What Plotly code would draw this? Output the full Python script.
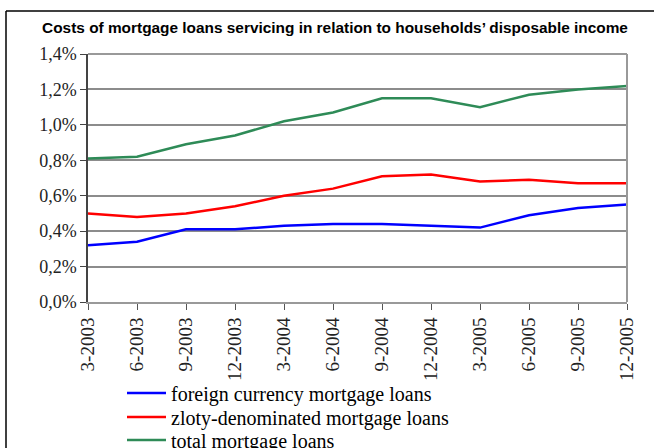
import plotly.graph_objects as go

# Quarter-end dates
quarters = ["3-2003", "6-2003", "9-2003", "12-2003", "3-2004", "6-2004",
            "9-2004", "12-2004", "3-2005", "6-2005", "9-2005", "12-2005"]

# Debt service cost as % of households' disposable income
foreign_currency = [0.32, 0.34, 0.41, 0.41, 0.43, 0.44, 0.44, 0.43, 0.42, 0.49, 0.53, 0.55]
zloty_denominated = [0.50, 0.48, 0.50, 0.54, 0.60, 0.64, 0.71, 0.72, 0.68, 0.69, 0.67, 0.67]
total_mortgage = [0.81, 0.82, 0.89, 0.94, 1.02, 1.07, 1.15, 1.15, 1.10, 1.17, 1.20, 1.22]

y_ticks = [0.0, 0.2, 0.4, 0.6, 0.8, 1.0, 1.2, 1.4]
y_tick_labels = ["0,0%", "0,2%", "0,4%", "0,6%", "0,8%", "1,0%", "1,2%", "1,4%"]

series = [
    ("foreign currency mortgage loans", foreign_currency, "#0000FF"),
    ("zloty-denominated mortgage loans", zloty_denominated, "#FF0000"),
    ("total mortgage loans", total_mortgage, "#2E8B57"),
]

W, H = 654, 448
L, R, T, B = 88, 27, 54, 146
pw, ph = W - L - R, H - T - B

serif = "Liberation Serif, Times New Roman, serif"

# one legend per series so each entry row can be placed on its own line
legend_ids = ["legend", "legend2", "legend3"]
legend_rows_px = [393, 417, 440]

fig = go.Figure()
for (name, vals, color), lid in zip(series, legend_ids):
    fig.add_trace(go.Scatter(
        x=quarters, y=vals, name=name, mode="lines",
        line=dict(color=color, width=2.5), legend=lid,
    ))

legend_layout = {}
for lid, row in zip(legend_ids, legend_rows_px):
    legend_layout[lid] = dict(
        xref="container", yref="container",
        x=122 / W, xanchor="left",
        y=1 - row / H, yanchor="middle",
        font=dict(family=serif, size=20, color="black"),
        bgcolor="rgba(0,0,0,0)", borderwidth=0, itemwidth=39,
    )

fig.update_layout(
    width=W, height=H,
    margin=dict(l=L, r=R, t=T, b=B, pad=0, autoexpand=False),
    paper_bgcolor="white", plot_bgcolor="white",
    showlegend=True,
    title=dict(
        text="<b>Costs of mortgage loans servicing in relation to households’ disposable income</b>",
        font=dict(family="Liberation Sans Narrow, Arial Narrow, Liberation Sans, sans-serif",
                  size=15.4, color="black"),
        x=335 / W, xanchor="center", xref="container",
        y=1 - 28 / H, yanchor="middle", yref="container",
    ),
    xaxis=dict(
        type="category", range=[0, len(quarters) - 1], automargin=False,
        showgrid=False, showline=True, linecolor="#999999", linewidth=2,
        mirror=False, ticks="outside", ticklen=6, tickcolor="#555555",
        tickangle=-90, tickfont=dict(family=serif, size=19, color="#222222"),
        zeroline=False,
    ),
    yaxis=dict(
        range=[0, 1.4], tickvals=y_ticks, ticktext=y_tick_labels, automargin=False,
        showgrid=True, gridcolor="#8c8c8c", gridwidth=1.5,
        showline=True, linecolor="#444444", linewidth=1.5,
        ticks="outside", ticklen=6, tickcolor="#444444",
        tickfont=dict(family=serif, size=18, color="#222222"),
        zeroline=False,
    ),
    shapes=[
        # grey frame on top and right of the plotting area
        dict(type="line", xref="paper", yref="paper", x0=0, x1=1, y0=1, y1=1,
             line=dict(color="#999999", width=2)),
        dict(type="line", xref="paper", yref="paper", x0=1, x1=1, y0=0, y1=1,
             line=dict(color="#999999", width=2)),
        # outer black frame of the panel
        dict(type="line", xref="paper", yref="paper",
             x0=(6 - L) / pw, x1=3, y0=(H - B - 11) / ph, y1=(H - B - 11) / ph,
             line=dict(color="black", width=1.5)),
        dict(type="line", xref="paper", yref="paper",
             x0=(6 - L) / pw, x1=(6 - L) / pw, y0=-3, y1=(H - B - 11) / ph,
             line=dict(color="black", width=1.5)),
    ],
    **legend_layout,
)

fig.write_html("out.html")
